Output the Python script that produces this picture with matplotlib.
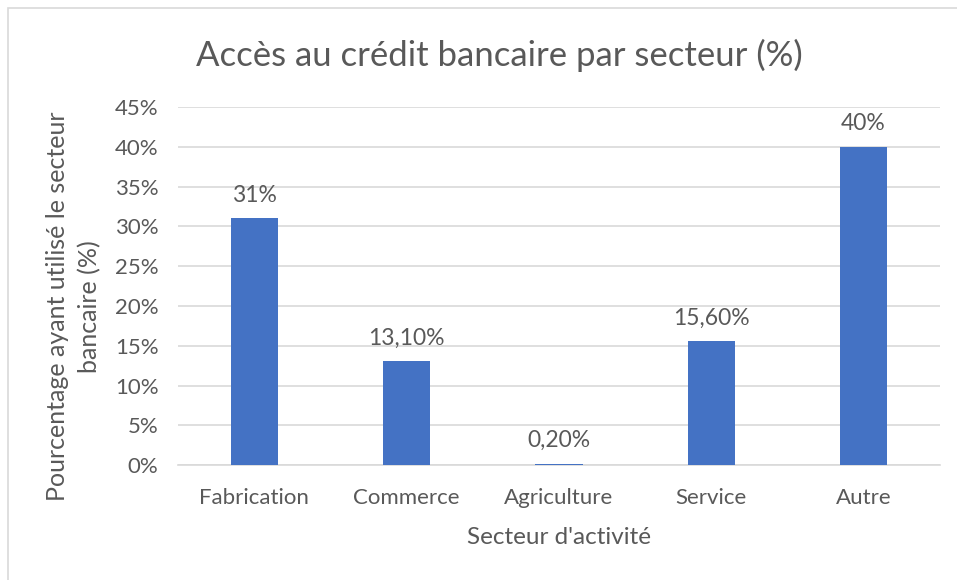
import matplotlib.pyplot as plt
from matplotlib.ticker import FuncFormatter

# Data
secteurs = ['Fabrication', 'Commerce', 'Agriculture', 'Service', 'Autre']
valeurs = [31.0, 13.1, 0.2, 15.6, 40.0]
etiquettes = ['31%', '13,10%', '0,20%', '15,60%', '40%']

plt.rcParams['font.family'] = ['Lato', 'DejaVu Sans']
texte = '#595959'

fig = plt.figure(figsize=(9.57, 5.80), dpi=100)
ax = fig.add_axes([0.186, 0.198, 0.796, 0.6175])

# light frame around the chart area
fig.patches.append(plt.Rectangle((8 / 957, -0.01), 1.0, 1.0 - 8 / 580 + 0.01,
                                 transform=fig.transFigure, fill=False,
                                 edgecolor='#D9D9D9', linewidth=1.2))

x = range(len(secteurs))
barres = ax.bar(x, valeurs, width=0.31, color='#4472C4', zorder=3)

# value labels above the bars
for b, lab in zip(barres, etiquettes):
    ax.annotate(lab, (b.get_x() + b.get_width() / 2, b.get_height()),
                xytext=(0, 9), textcoords='offset points',
                ha='center', va='bottom', fontsize=16.5, color=texte)

ax.set_xlim(-0.5, len(secteurs) - 0.5)
ax.set_ylim(0, 45)
ax.set_yticks(range(0, 46, 5))
ax.yaxis.set_major_formatter(FuncFormatter(lambda v, p: f'{v:.0f}%'))
ax.set_xticks(list(x))
ax.set_xticklabels(secteurs)

ax.grid(axis='y', color='#D9D9D9', linewidth=1.2, zorder=0)
for s in ['top', 'right', 'left']:
    ax.spines[s].set_visible(False)
ax.spines['bottom'].set_color('#D9D9D9')
ax.spines['bottom'].set_linewidth(1.2)
ax.tick_params(axis='both', length=0, labelsize=16, colors=texte)
ax.tick_params(axis='x', pad=16.5)
ax.tick_params(axis='y', pad=14)

ax.set_xlabel("Secteur d'activité", fontsize=17.5, color=texte, labelpad=13.5)
ax.set_ylabel('Pourcentage ayant utilisé le secteur\nbancaire (%)',
              fontsize=18, color=texte, linespacing=1.45)
ax.yaxis.set_label_coords(-0.101, 0.444)

fig.text(0.522, 0.905, 'Accès au crédit bancaire par secteur (%)',
         ha='center', va='center', fontsize=25, color=texte)

fig.savefig('out.png', dpi=100)
